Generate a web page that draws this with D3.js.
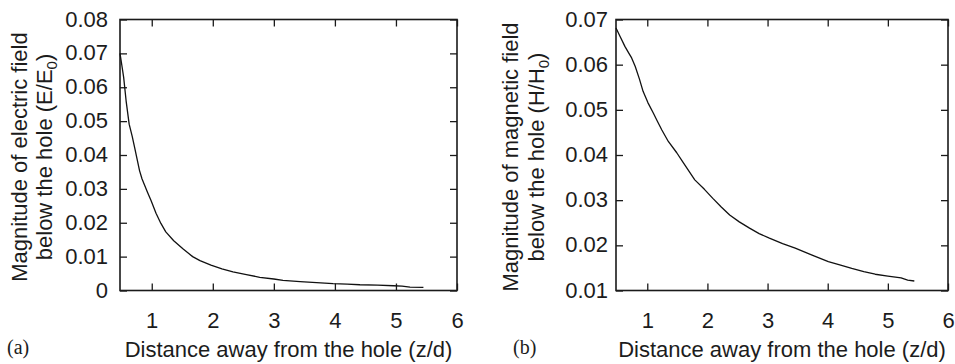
<!DOCTYPE html>
<html>
<head>
<meta charset="utf-8">
<script src="https://cdn.jsdelivr.net/npm/d3@7/dist/d3.min.js"></script>
<style>
  html, body { margin: 0; padding: 0; background: #fff; }
  svg { display: block; }
  .tick text { font-family: "Liberation Sans", Arial, sans-serif; fill: #1c1c1c; }
</style>
</head>
<body>
<svg id="fig" width="955" height="364"></svg>
<script>
// Distance below the hole (z/d), shared x ticks
const xTicks = [1, 2, 3, 4, 5, 6];

// (a) electric field magnitude E/E0
const distE = [0.48, 0.51, 0.54, 0.58, 0.63, 0.68, 0.72, 0.76, 0.80, 0.84, 0.88, 0.93, 0.99, 1.07, 1.15, 1.23, 1.36, 1.51, 1.67, 1.79, 1.97,
               2.15, 2.33, 2.55, 2.77, 3.00, 3.15, 3.43, 3.70, 3.97, 4.20, 4.41, 4.70, 4.96, 5.10, 5.23, 5.45];
const fieldE = [0.0700, 0.0665, 0.0629, 0.0560, 0.0491, 0.0455, 0.0422, 0.0388, 0.0354, 0.0330, 0.0312, 0.0290, 0.0265, 0.0228, 0.0198, 0.0173, 0.0147, 0.0123, 0.0100, 0.0088, 0.0075,
                0.0064, 0.0055, 0.0047, 0.0039, 0.0034, 0.0030, 0.0026, 0.0023, 0.0020, 0.0019, 0.0017, 0.0016, 0.0014, 0.0013, 0.0010, 0.0009];
const yTicksE = [0, 0.01, 0.02, 0.03, 0.04, 0.05, 0.06, 0.07, 0.08];

// (b) magnetic field magnitude H/H0
const distH = [0.48, 0.55, 0.63, 0.70, 0.74, 0.80, 0.87, 0.93, 1.01, 1.10, 1.17, 1.24, 1.35, 1.49, 1.59, 1.79,
               1.95, 2.09, 2.23, 2.37, 2.53, 2.70, 2.86, 3.03, 3.25, 3.46, 3.73, 4.01, 4.20, 4.40, 4.60, 4.79,
               5.00, 5.22, 5.33, 5.44];
const fieldH = [0.0681, 0.0662, 0.0640, 0.0624, 0.0615, 0.0596, 0.0568, 0.0541, 0.0516, 0.0493, 0.0474, 0.0456, 0.0430, 0.0405, 0.0385, 0.0345,
                0.0324, 0.0304, 0.0285, 0.0267, 0.0252, 0.0238, 0.0226, 0.0216, 0.0204, 0.0194, 0.0179, 0.0164, 0.0157, 0.0149, 0.0142, 0.0136,
                0.0132, 0.0128, 0.0123, 0.0121];
const yTicksH = [0.01, 0.02, 0.03, 0.04, 0.05, 0.06, 0.07];

const svg = d3.select("#fig");
const ink = "#1a1a1a";
const textInk = "#1c1c1c";
const sans = "Liberation Sans, Arial, sans-serif";
const fmt = d => d === 0 ? "0" : d3.format(".2f")(d);

const panels = [
  { left: 120, right: 457, top: 19.5, bottom: 290.5, xs: distE, ys: fieldE, yTicks: yTicksE,
    yDomain: [0, 0.08], labelPad: 12, tag: "(a)", tagX: 7,
    line1X: 27, line2X: 52,
    line1: "Magnitude of electric field", line2: ["below the hole (E/E", "0", ")"] },
  { left: 616, right: 948, top: 19.5, bottom: 290.5, xs: distH, ys: fieldH, yTicks: yTicksH,
    yDomain: [0.01, 0.07], labelPad: 8, tag: "(b)", tagX: 513,
    line1X: 518, line2X: 544,
    line1: "Magnitude of magnetic field", line2: ["below the hole (H/H", "0", ")"] }
];

panels.forEach(p => {
  const x = d3.scaleLinear().domain([0.48, 6]).range([p.left, p.right]);
  const y = d3.scaleLinear().domain(p.yDomain).range([p.bottom, p.top]);
  const g = svg.append("g");

  // inward ticks on all four sides
  const bottom = g.append("g").attr("transform", `translate(0,${p.bottom})`)
    .call(d3.axisBottom(x).tickValues(xTicks).tickFormat(d3.format("d")).tickSize(-7).tickPadding(22));
  const top = g.append("g").attr("transform", `translate(0,${p.top})`)
    .call(d3.axisTop(x).tickValues(xTicks).tickFormat("").tickSize(-7));
  const leftAx = g.append("g").attr("transform", `translate(${p.left},0)`)
    .call(d3.axisLeft(y).tickValues(p.yTicks).tickFormat(fmt).tickSize(-7).tickPadding(p.labelPad));
  const rightAx = g.append("g").attr("transform", `translate(${p.right},0)`)
    .call(d3.axisRight(y).tickValues(p.yTicks).tickFormat("").tickSize(-7));

  [bottom, top, leftAx, rightAx].forEach(a => {
    a.select(".domain").remove();
    a.selectAll(".tick line").attr("stroke", ink).attr("stroke-width", 1.3);
    a.selectAll(".tick text").attr("font-size", 22).attr("fill", textInk);
  });
  leftAx.selectAll(".tick text").attr("dy", "0.3em");

  // frame
  g.append("rect")
    .attr("x", p.left).attr("y", p.top)
    .attr("width", p.right - p.left).attr("height", p.bottom - p.top)
    .attr("fill", "none").attr("stroke", ink).attr("stroke-width", 1.6);

  // field curve
  const pts = p.xs.map((d, i) => [d, p.ys[i]]);
  g.append("path")
    .datum(pts)
    .attr("fill", "none")
    .attr("stroke", "#111")
    .attr("stroke-width", 1.3)
    .attr("stroke-linejoin", "round")
    .attr("d", d3.line().x(d => x(d[0])).y(d => y(d[1])));

  // y-axis title, two lines
  const cy = (p.top + p.bottom) / 2 + 2;
  g.append("text")
    .attr("transform", `translate(${p.line1X},${cy}) rotate(-90)`)
    .attr("text-anchor", "middle")
    .attr("font-family", sans)
    .attr("font-size", 22).attr("fill", textInk)
    .text(p.line1);
  const t2 = g.append("text")
    .attr("transform", `translate(${p.line2X},${cy}) rotate(-90)`)
    .attr("text-anchor", "middle")
    .attr("font-family", sans)
    .attr("font-size", 22).attr("fill", textInk);
  t2.append("tspan").text(p.line2[0]);
  t2.append("tspan").attr("font-size", 15).attr("dy", 5).text(p.line2[1]);
  t2.append("tspan").attr("dy", -5).text(p.line2[2]);

  // x-axis title
  g.append("text")
    .attr("x", (p.left + p.right) / 2).attr("y", 357)
    .attr("text-anchor", "middle")
    .attr("font-family", sans)
    .attr("font-size", 22).attr("fill", textInk)
    .text("Distance away from the hole (z/d)");

  // panel tag
  g.append("text")
    .attr("x", p.tagX).attr("y", 354)
    .attr("font-family", "Liberation Serif, Times New Roman, serif")
    .attr("font-size", 20).attr("fill", textInk)
    .text(p.tag);
});
</script>
</body>
</html>
